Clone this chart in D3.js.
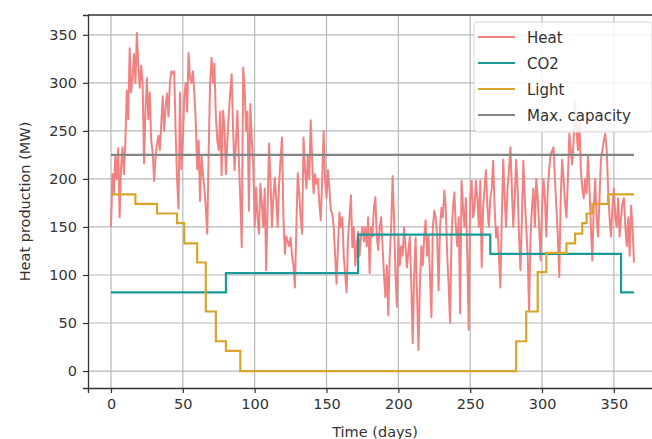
<!DOCTYPE html>
<html>
<head>
<meta charset="utf-8">
<script src="https://cdn.jsdelivr.net/npm/d3@7.9.0/dist/d3.min.js"></script>
<style>
  body { margin: 0; background: #fff; }
  svg { display: block; font-family: "DejaVu Sans", sans-serif; }
</style>
</head>
<body>
<svg id="chart" width="652" height="439"></svg>
<script>
// daily heat production (MW), day 0..364
const heat = [
  150, 205, 185, 225, 200, 232, 160, 212, 233, 205,
  238, 292, 262, 336, 290, 305, 330, 300, 352, 318,
  295, 318, 300, 216, 272, 305, 262, 290, 240, 228,
  198, 222, 236, 245, 230, 258, 286, 250, 275, 289,
  265, 300, 312, 310, 312, 248, 200, 169, 290, 210,
  240, 285, 300, 270, 331, 305, 300, 312, 290, 260,
  210, 240, 177, 225, 205, 190, 170, 143, 230, 300,
  326, 300, 320, 265, 240, 230, 270, 204, 271, 255,
  205, 240, 268, 290, 309, 250, 209, 240, 271, 220,
  180, 129, 316, 295, 250, 270, 167, 278, 240, 216,
  150, 191, 160, 143, 195, 175, 150, 190, 105, 170,
  237, 200, 150, 180, 201, 180, 150, 195, 220, 243,
  160, 122, 140, 135, 130, 139, 120, 110, 87, 150,
  206, 185, 160, 143, 243, 210, 190, 225, 200, 261,
  220, 185, 205, 195, 200, 175, 157, 200, 250, 200,
  180, 209, 190, 167, 164, 150, 120, 91, 130, 165,
  150, 160, 120, 100, 82, 140, 160, 183, 129, 150,
  110, 130, 145, 120, 140, 150, 135, 150, 130, 160,
  102, 150, 140, 170, 181, 140, 126, 150, 160, 130,
  100, 77, 110, 58, 120, 150, 203, 160, 100, 67,
  140, 110, 130, 120, 150, 129, 108, 125, 140, 90,
  29, 100, 139, 80, 22, 90, 130, 110, 140, 157,
  120, 140, 100, 56, 150, 167, 160, 140, 84, 150,
  170, 160, 188, 170, 120, 90, 50, 140, 170, 186,
  150, 130, 160, 60, 198, 170, 150, 180, 120, 43,
  180, 198, 160, 170, 198, 180, 150, 198, 108, 170,
  190, 209, 170, 150, 180, 190, 219, 170, 139, 150,
  120, 87, 160, 220, 180, 150, 190, 210, 233, 190,
  150, 180, 220, 190, 140, 105, 160, 219, 180, 150,
  120, 63, 140, 170, 190, 150, 200, 180, 150, 115,
  170, 200, 180, 140, 190, 210, 226, 229, 233, 200,
  170, 140, 98, 180, 220, 200, 175, 160, 200, 247,
  230, 215, 240, 281, 250, 230, 260, 210, 191, 180,
  200, 185, 225, 190, 150, 115, 170, 200, 160, 140,
  180, 220, 230, 240, 247, 230, 190, 160, 140, 170,
  190, 160, 150, 180, 140, 160, 175, 180, 150, 130,
  160, 120, 172, 150, 113
];

// step series: day where a level starts, and the level
const co2Days = [0, 80, 172, 264, 355, 364];
const co2Vals = [82, 102, 142, 122, 82, 82];

const lightDays = [0, 17, 32, 46, 51, 60, 66, 73, 80, 90, 282, 289, 297, 303, 317, 323, 328, 331, 335, 346, 364];
const lightVals = [184, 174, 164, 154, 133, 113, 62, 31, 21, 0, 31, 62, 103, 123, 133, 143, 154, 164, 174, 184, 184];

const capDays = [0, 364];
const capVals = [225, 225];

const xTicks = [0, 50, 100, 150, 200, 250, 300, 350];
const yTicks = [0, 50, 100, 150, 200, 250, 300, 350];

const legendItems = [
  { label: 'Heat', color: '#f08282' },
  { label: 'CO2', color: '#1b9a98' },
  { label: 'Light', color: '#d6a52a' },
  { label: 'Max. capacity', color: '#858585' }
];

const plotL = 88, plotR = 662, plotT = 15, plotB = 388;

const svg = d3.select('#chart');
const x = d3.scaleLinear().domain([-16, 383.5]).range([plotL, plotR]);
const y = d3.scaleLinear().domain([-17.65, 370.65]).range([plotB, plotT]);

// grid
svg.append('g').selectAll('line').data(xTicks).join('line')
  .attr('x1', d => x(d)).attr('x2', d => x(d))
  .attr('y1', plotT).attr('y2', plotB)
  .attr('stroke', '#b8b8b8').attr('stroke-width', 1.2);
svg.append('g').selectAll('line').data(yTicks).join('line')
  .attr('x1', plotL).attr('x2', plotR)
  .attr('y1', d => y(d)).attr('y2', d => y(d))
  .attr('stroke', '#b8b8b8').attr('stroke-width', 1.2);

const line = d3.line().x(d => x(d[0])).y(d => y(d[1]));
const stepLine = d3.line().x(d => x(d[0])).y(d => y(d[1])).curve(d3.curveStepAfter);

svg.append('path')
  .attr('d', line(heat.map((v, i) => [i, v])))
  .attr('fill', 'none').attr('stroke', legendItems[0].color)
  .attr('stroke-width', 2).attr('stroke-linejoin', 'round');

svg.append('path')
  .attr('d', stepLine(co2Days.map((d, i) => [d, co2Vals[i]])))
  .attr('fill', 'none').attr('stroke', legendItems[1].color).attr('stroke-width', 2.2);

svg.append('path')
  .attr('d', stepLine(lightDays.map((d, i) => [d, lightVals[i]])))
  .attr('fill', 'none').attr('stroke', legendItems[2].color).attr('stroke-width', 2.2);

svg.append('path')
  .attr('d', line(capDays.map((d, i) => [d, capVals[i]])))
  .attr('fill', 'none').attr('stroke', legendItems[3].color).attr('stroke-width', 2.2);

// axes
const xAxis = svg.append('g').attr('transform', `translate(0,${plotB})`)
  .call(d3.axisBottom(x).tickValues(xTicks).tickSize(5).tickPadding(6));
const yAxis = svg.append('g').attr('transform', `translate(${plotL},0)`)
  .call(d3.axisLeft(y).tickValues(yTicks).tickSize(5).tickPadding(6));
[xAxis, yAxis].forEach(a => {
  a.select('.domain').attr('stroke', '#333').attr('stroke-width', 1.3);
  a.selectAll('.tick line').attr('stroke', '#333').attr('stroke-width', 1.2);
  a.selectAll('.tick text').attr('fill', '#333').style('font-size', '14.5px')
    .style('font-family', '"DejaVu Sans", sans-serif');
});
// top spine
svg.append('line').attr('x1', plotL).attr('x2', plotR).attr('y1', plotT).attr('y2', plotT)
  .attr('stroke', '#333').attr('stroke-width', 1.3);

svg.append('text').attr('x', (plotL + plotR) / 2).attr('y', 437)
  .attr('text-anchor', 'middle').attr('fill', '#333').style('font-size', '14.5px')
  .text('Time (days)');
svg.append('text').attr('transform', `translate(30,${(plotT + plotB) / 2}) rotate(-90)`)
  .attr('text-anchor', 'middle').attr('fill', '#333').style('font-size', '14.5px')
  .text('Heat production (MW)');

// legend
const lg = svg.append('g').attr('transform', 'translate(474,22)');
lg.append('rect').attr('width', 178).attr('height', 110).attr('rx', 3)
  .attr('fill', 'rgba(255,255,255,0.85)').attr('stroke', '#d6d6d6');
legendItems.forEach((d, i) => {
  const row = lg.append('g').attr('transform', `translate(0,${15 + i * 26})`);
  row.append('line').attr('x1', 4).attr('x2', 41).attr('y1', 0).attr('y2', 0)
    .attr('stroke', d.color).attr('stroke-width', 2.2);
  row.append('text').attr('x', 53).attr('y', 5.5).attr('fill', '#333')
    .style('font-size', '15px').text(d.label);
});
</script>
</body>
</html>
